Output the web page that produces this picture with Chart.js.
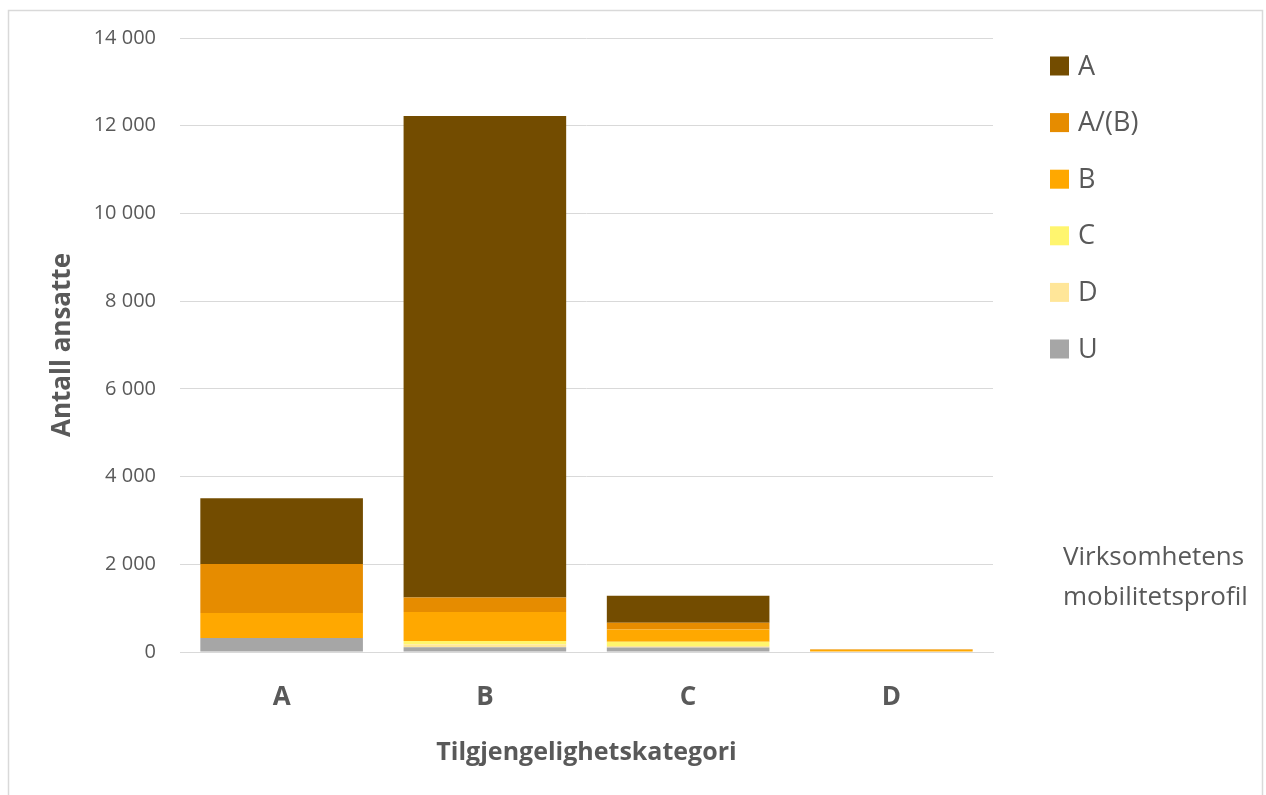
<!DOCTYPE html>
<html lang="no">
<head>
  <meta charset="UTF-8">
  <title>Antall ansatte etter tilgjengelighetskategori</title>
  <script src="https://cdn.jsdelivr.net/npm/chart.js"></script>
  <style>
    html, body { margin: 0; padding: 0; background: #fff; }
    #wrap { width: 1266px; height: 795px; }
  </style>
</head>
<body>
  <div id="wrap"><canvas id="chart" width="1266" height="795"></canvas></div>

  <script>
    const categories = ['A', 'B', 'C', 'D'];
    const yTicks = [0, 2000, 4000, 6000, 8000, 10000, 12000, 14000];

    // mobility profile series (legend order, top of stack first)
    const seriesA  = [1500, 10975, 615, 0];
    const seriesAB = [1115, 335, 150, 15];
    const seriesB  = [570, 660, 280, 50];
    const seriesC  = [0, 80, 100, 0];
    const seriesD  = [0, 60, 30, 0];
    const seriesU  = [320, 110, 105, 0];

    const legendNames = ['A', 'A/(B)', 'B', 'C', 'D', 'U'];
    const legendColors = ['#734c00', '#e68c00', '#ffa800', '#fff56e', '#ffe699', '#a6a6a6'];
    const legendSeries = [seriesA, seriesAB, seriesB, seriesC, seriesD, seriesU];

    const textColor = '#595959';
    const fontFamily = '"Open Sans", "Noto Sans", sans-serif';

    // stack bottom-up, so reverse the legend order
    const datasets = legendNames.map((name, i) => ({
      label: name,
      data: legendSeries[i],
      backgroundColor: legendColors[i],
      borderWidth: 0
    })).reverse();

    function fmt(v) {
      return String(v).replace(/\B(?=(\d{3})+(?!\d))/g, ' ');
    }

    const extras = {
      id: 'extras',
      afterDraw(chart) {
        const c = chart.ctx;
        c.save();
        // outer frame
        c.strokeStyle = '#d9d9d9';
        c.lineWidth = 1.5;
        c.strokeRect(8.5, 10.5, 1254, 800);
        // legend
        c.font = '27px ' + fontFamily;
        c.textBaseline = 'middle';
        c.textAlign = 'left';
        legendNames.forEach((name, i) => {
          const y = 66 + i * 56.6;
          c.fillStyle = legendColors[i];
          c.fillRect(1050, y - 9.5, 19, 19);
          c.fillStyle = textColor;
          c.fillText(name, 1078, y + 1);
        });
        // legend caption
        c.font = '26px ' + fontFamily;
        c.fillText('Virksomhetens', 1063, 558);
        c.fillText('mobilitetsprofil', 1063, 598);
        c.restore();
      }
    };

    new Chart(document.getElementById('chart'), {
      type: 'bar',
      data: { labels: categories, datasets: datasets },
      plugins: [extras],
      options: {
        responsive: false,
        animation: false,
        layout: { padding: { left: 0, right: 273, top: 38, bottom: 0 } },
        plugins: {
          legend: { display: false },
          tooltip: { enabled: false }
        },
        datasets: { bar: { barPercentage: 0.8, categoryPercentage: 1 } },
        scales: {
          x: {
            stacked: true,
            afterFit: s => { s.height = 143; },
            grid: { display: false, drawTicks: false },
            border: { color: '#d9d9d9', width: 1 },
            ticks: {
              padding: 30,
              color: textColor,
              font: { family: fontFamily, size: 26, weight: 'bold' }
            },
            title: {
              display: true,
              text: 'Tilgjengelighetskategori',
              color: textColor,
              font: { family: fontFamily, size: 25, weight: 'bold' },
              padding: { bottom: 27 }
            }
          },
          y: {
            stacked: true,
            min: 0,
            max: 14000,
            afterFit: s => { s.width = 180; },
            afterBuildTicks: s => { s.ticks = yTicks.map(v => ({ value: v })); },
            grid: { color: '#d9d9d9', lineWidth: 1, drawTicks: false },
            border: { display: false },
            ticks: {
              padding: 24,
              color: textColor,
              font: { family: fontFamily, size: 20 },
              callback: v => fmt(v)
            },
            title: {
              display: true,
              text: 'Antall ansatte',
              color: textColor,
              font: { family: fontFamily, size: 26, weight: 'bold' },
              padding: { top: 47 }
            }
          }
        }
      }
    });
  </script>
</body>
</html>
